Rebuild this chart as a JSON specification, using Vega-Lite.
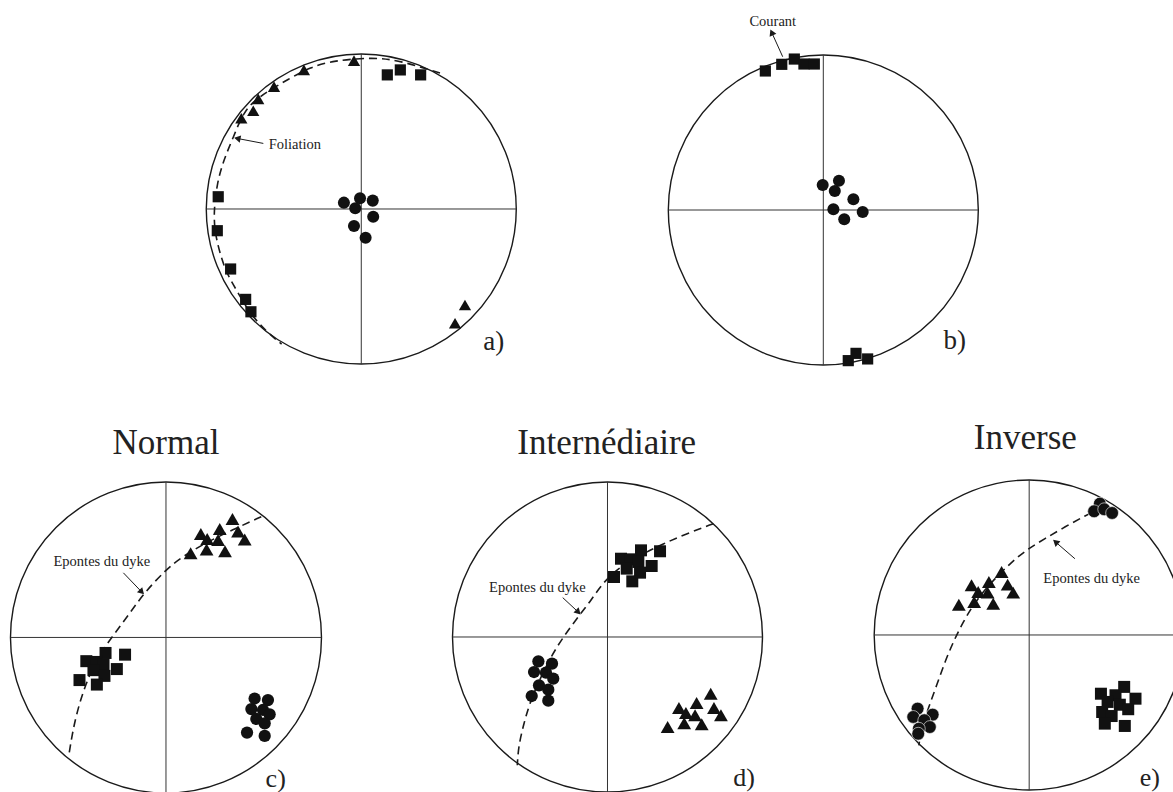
{
  "$schema": "https://vega.github.io/schema/vega-lite/v6.json",
  "padding": 0,
  "spacing": 0,
  "background": "white",
  "config": {
    "view": {"stroke": null},
    "axis": {"disable": true},
    "legend": {"disable": true},
    "concat": {"spacing": 0}
  },
  "vconcat": [
    {
      "spacing": 0,
      "bounds": "flush",
      "resolve": {"scale": {"x": "independent", "y": "independent"}},
      "hconcat": [
        {
          "width": 586, "height": 420,
          "data": {"values": [
            {"x": -0.047, "y": 0.957, "s": "triangle"}, {"x": -0.37, "y": 0.897, "s": "triangle"}, {"x": -0.563, "y": 0.789, "s": "triangle"},
            {"x": -0.665, "y": 0.71, "s": "triangle"}, {"x": -0.697, "y": 0.634, "s": "triangle"}, {"x": -0.774, "y": 0.585, "s": "triangle"},
            {"x": 0.669, "y": -0.619, "s": "triangle"}, {"x": 0.605, "y": -0.737, "s": "triangle"},
            {"x": 0.168, "y": 0.865, "s": "square"}, {"x": 0.252, "y": 0.897, "s": "square"}, {"x": 0.383, "y": 0.865, "s": "square"},
            {"x": -0.923, "y": 0.079, "s": "square"}, {"x": -0.929, "y": -0.14, "s": "square"}, {"x": -0.843, "y": -0.387, "s": "square"},
            {"x": -0.746, "y": -0.583, "s": "square"}, {"x": -0.712, "y": -0.663, "s": "square"},
            {"x": -0.112, "y": 0.041, "s": "circle"}, {"x": -0.008, "y": 0.069, "s": "circle"}, {"x": 0.074, "y": 0.054, "s": "circle"},
            {"x": -0.039, "y": 0.005, "s": "circle"}, {"x": 0.077, "y": -0.05, "s": "circle"}, {"x": -0.047, "y": -0.11, "s": "circle"},
            {"x": 0.028, "y": -0.185, "s": "circle"}
          ]},
          "encoding": {
            "x": {"field": "x", "type": "quantitative", "scale": {"domain": [-2.331, 1.45], "nice": false, "zero": false}},
            "y": {"field": "y", "type": "quantitative", "scale": {"domain": [-1.361, 1.348], "nice": false, "zero": false}}
          },
          "layer": [
            {"data": {"values": [{"x": 0, "y": 0}]}, "mark": {"type": "point", "shape": "circle", "size": 96100, "filled": false, "stroke": "#1a1a1a", "strokeWidth": 1.4, "opacity": 1}},
            {"data": {"values": [{"x": -1, "y": 0, "x2": 1, "y2": 0}, {"x": 0, "y": -1, "x2": 0, "y2": 1}]}, "mark": {"type": "rule", "stroke": "#333", "strokeWidth": 1}, "encoding": {"x2": {"field": "x2"}, "y2": {"field": "y2"}}},
            {"data": {"values": [
              {"i": 0, "x": 0.508, "y": 0.877}, {"i": 1, "x": 0.25, "y": 0.957}, {"i": 2, "x": 0.079, "y": 0.979},
              {"i": 3, "x": -0.181, "y": 0.957}, {"i": 4, "x": -0.331, "y": 0.914}, {"i": 5, "x": -0.46, "y": 0.843},
              {"i": 6, "x": -0.663, "y": 0.725}, {"i": 7, "x": -0.76, "y": 0.628}, {"i": 8, "x": -0.824, "y": 0.466},
              {"i": 9, "x": -0.888, "y": 0.316}, {"i": 10, "x": -0.931, "y": 0.166}, {"i": 11, "x": -0.953, "y": -0.028},
              {"i": 12, "x": -0.943, "y": -0.157}, {"i": 13, "x": -0.912, "y": -0.286}, {"i": 14, "x": -0.869, "y": -0.415},
              {"i": 15, "x": -0.805, "y": -0.523}, {"i": 16, "x": -0.719, "y": -0.674}, {"i": 17, "x": -0.611, "y": -0.792},
              {"i": 18, "x": -0.514, "y": -0.871}
            ]}, "mark": {"type": "line", "stroke": "#1a1a1a", "strokeWidth": 1.6, "strokeDash": [8, 5], "interpolate": "basis"}, "encoding": {"order": {"field": "i", "type": "quantitative"}}},
            {"transform": [{"filter": "datum.s === 'circle'"}], "mark": {"type": "point", "shape": "circle", "size": 145, "filled": true, "fill": "#111", "opacity": 1}},
            {"transform": [{"filter": "datum.s === 'square'"}], "mark": {"type": "point", "shape": "square", "size": 125, "filled": true, "fill": "#111", "opacity": 1}},
            {"transform": [{"filter": "datum.s === 'triangle'"}], "mark": {"type": "point", "shape": "triangle-up", "size": 150, "filled": true, "fill": "#111", "opacity": 1}},
            {"data": {"values": [{"x": -0.632, "y": 0.423, "x2": -0.8, "y2": 0.455}]}, "mark": {"type": "rule", "stroke": "#1a1a1a", "strokeWidth": 1}, "encoding": {"x2": {"field": "x2"}, "y2": {"field": "y2"}}},
            {"data": {"values": [{"x": -0.8, "y": 0.455}]}, "mark": {"type": "point", "shape": "triangle-up", "size": 55, "angle": 281, "filled": true, "fill": "#1a1a1a", "opacity": 1}},
            {"data": {"values": [{"x": -0.428, "y": 0.413, "t": "Foliation"}]}, "mark": {"type": "text", "font": "Liberation Serif", "fontSize": 14.5, "align": "center", "baseline": "middle", "color": "#222"}, "encoding": {"text": {"field": "t"}}},
            {"data": {"values": [{"x": 0.855, "y": -0.856, "t": "a)"}]}, "mark": {"type": "text", "font": "Liberation Serif", "fontSize": 27, "align": "center", "baseline": "middle", "color": "#222"}, "encoding": {"text": {"field": "t"}}}
          ]
        },
        {
          "width": 587, "height": 420,
          "data": {"values": [
            {"x": -0.374, "y": 0.897, "s": "square"}, {"x": -0.268, "y": 0.94, "s": "square"}, {"x": -0.187, "y": 0.974, "s": "square"},
            {"x": -0.125, "y": 0.942, "s": "square"}, {"x": -0.058, "y": 0.942, "s": "square"},
            {"x": 0.161, "y": -0.972, "s": "square"}, {"x": 0.211, "y": -0.925, "s": "square"}, {"x": 0.286, "y": -0.961, "s": "square"},
            {"x": -0.004, "y": 0.161, "s": "circle"}, {"x": 0.101, "y": 0.189, "s": "circle"}, {"x": 0.074, "y": 0.123, "s": "circle"},
            {"x": 0.194, "y": 0.069, "s": "circle"}, {"x": 0.065, "y": 0.005, "s": "circle"}, {"x": 0.254, "y": -0.013, "s": "circle"},
            {"x": 0.135, "y": -0.06, "s": "circle"}
          ]},
          "encoding": {
            "x": {"field": "x", "type": "quantitative", "scale": {"domain": [-1.531, 2.256], "nice": false, "zero": false}},
            "y": {"field": "y", "type": "quantitative", "scale": {"domain": [-1.355, 1.355], "nice": false, "zero": false}}
          },
          "layer": [
            {"data": {"values": [{"x": 0, "y": 0}]}, "mark": {"type": "point", "shape": "circle", "size": 96100, "filled": false, "stroke": "#1a1a1a", "strokeWidth": 1.4, "opacity": 1}},
            {"data": {"values": [{"x": -1, "y": 0, "x2": 1, "y2": 0}, {"x": 0, "y": -1, "x2": 0, "y2": 1}]}, "mark": {"type": "rule", "stroke": "#333", "strokeWidth": 1}, "encoding": {"x2": {"field": "x2"}, "y2": {"field": "y2"}}},
            {"transform": [{"filter": "datum.s === 'circle'"}], "mark": {"type": "point", "shape": "circle", "size": 145, "filled": true, "fill": "#111", "opacity": 1}},
            {"transform": [{"filter": "datum.s === 'square'"}], "mark": {"type": "point", "shape": "square", "size": 125, "filled": true, "fill": "#111", "opacity": 1}},
            {"data": {"values": [{"x": -0.262, "y": 0.989, "x2": -0.333, "y2": 1.146}]}, "mark": {"type": "rule", "stroke": "#1a1a1a", "strokeWidth": 1}, "encoding": {"x2": {"field": "x2"}, "y2": {"field": "y2"}}},
            {"data": {"values": [{"x": -0.333, "y": 1.146}]}, "mark": {"type": "point", "shape": "triangle-up", "size": 55, "angle": 336, "filled": true, "fill": "#1a1a1a", "opacity": 1}},
            {"data": {"values": [{"x": -0.326, "y": 1.215, "t": "Courant"}]}, "mark": {"type": "text", "font": "Liberation Serif", "fontSize": 14.5, "align": "center", "baseline": "middle", "color": "#222"}, "encoding": {"text": {"field": "t"}}},
            {"data": {"values": [{"x": 0.848, "y": -0.844, "t": "b)"}]}, "mark": {"type": "text", "font": "Liberation Serif", "fontSize": 27, "align": "center", "baseline": "middle", "color": "#222"}, "encoding": {"text": {"field": "t"}}}
          ]
        }
      ]
    },
    {
      "spacing": 0,
      "bounds": "flush",
      "resolve": {"scale": {"x": "independent", "y": "independent"}},
      "hconcat": [
        {
          "width": 391, "height": 372,
          "data": {"values": [
            {"x": 0.429, "y": 0.764, "s": "triangle"}, {"x": 0.225, "y": 0.668, "s": "triangle"}, {"x": 0.347, "y": 0.7, "s": "triangle"},
            {"x": 0.465, "y": 0.683, "s": "triangle"}, {"x": 0.266, "y": 0.635, "s": "triangle"}, {"x": 0.336, "y": 0.629, "s": "triangle"},
            {"x": 0.508, "y": 0.632, "s": "triangle"}, {"x": 0.159, "y": 0.543, "s": "triangle"}, {"x": 0.262, "y": 0.567, "s": "triangle"},
            {"x": 0.381, "y": 0.556, "s": "triangle"},
            {"x": -0.264, "y": -0.111, "s": "square"}, {"x": -0.39, "y": -0.1, "s": "square"}, {"x": -0.514, "y": -0.153, "s": "square"},
            {"x": -0.446, "y": -0.158, "s": "square"}, {"x": -0.403, "y": -0.172, "s": "square"}, {"x": -0.317, "y": -0.204, "s": "square"},
            {"x": -0.468, "y": -0.211, "s": "square"}, {"x": -0.397, "y": -0.248, "s": "square"}, {"x": -0.558, "y": -0.275, "s": "square"},
            {"x": -0.446, "y": -0.304, "s": "square"},
            {"x": 0.572, "y": -0.394, "s": "circle"}, {"x": 0.658, "y": -0.404, "s": "circle"}, {"x": 0.551, "y": -0.462, "s": "circle"},
            {"x": 0.626, "y": -0.468, "s": "circle"}, {"x": 0.669, "y": -0.496, "s": "circle"}, {"x": 0.583, "y": -0.526, "s": "circle"},
            {"x": 0.637, "y": -0.554, "s": "circle"}, {"x": 0.523, "y": -0.614, "s": "circle"}, {"x": 0.637, "y": -0.635, "s": "circle"}
          ]},
          "encoding": {
            "x": {"field": "x", "type": "quantitative", "scale": {"domain": [-1.071, 1.452], "nice": false, "zero": false}},
            "y": {"field": "y", "type": "quantitative", "scale": {"domain": [-1.01, 1.39], "nice": false, "zero": false}}
          },
          "layer": [
            {"data": {"values": [{"x": 0, "y": 0}]}, "mark": {"type": "point", "shape": "circle", "size": 96721, "filled": false, "stroke": "#1a1a1a", "strokeWidth": 1.4, "opacity": 1}},
            {"data": {"values": [{"x": -1.003, "y": 0, "x2": 1.003, "y2": 0}, {"x": 0, "y": -1.003, "x2": 0, "y2": 1.003}]}, "mark": {"type": "rule", "stroke": "#333", "strokeWidth": 1}, "encoding": {"x2": {"field": "x2"}, "y2": {"field": "y2"}}},
            {"data": {"values": [
              {"i": 0, "x": 0.615, "y": 0.779}, {"i": 1, "x": 0.433, "y": 0.696}, {"i": 2, "x": 0.262, "y": 0.614},
              {"i": 3, "x": 0.101, "y": 0.518}, {"i": 4, "x": 0.004, "y": 0.442}, {"i": 5, "x": -0.146, "y": 0.282},
              {"i": 6, "x": -0.242, "y": 0.143}, {"i": 7, "x": -0.349, "y": 0.003}, {"i": 8, "x": -0.446, "y": -0.136},
              {"i": 9, "x": -0.521, "y": -0.307}, {"i": 10, "x": -0.574, "y": -0.479}, {"i": 11, "x": -0.606, "y": -0.629},
              {"i": 12, "x": -0.628, "y": -0.768}
            ]}, "mark": {"type": "line", "stroke": "#1a1a1a", "strokeWidth": 1.6, "strokeDash": [8, 5], "interpolate": "basis"}, "encoding": {"order": {"field": "i", "type": "quantitative"}}},
            {"transform": [{"filter": "datum.s === 'circle'"}], "mark": {"type": "point", "shape": "circle", "size": 150, "filled": true, "fill": "#111", "opacity": 1}},
            {"transform": [{"filter": "datum.s === 'square'"}], "mark": {"type": "point", "shape": "square", "size": 144, "filled": true, "fill": "#111", "opacity": 1}},
            {"transform": [{"filter": "datum.s === 'triangle'"}], "mark": {"type": "point", "shape": "triangle-up", "size": 190, "filled": true, "fill": "#111", "opacity": 1}},
            {"data": {"values": [{"x": -0.275, "y": 0.417, "x2": -0.156, "y2": 0.293}]}, "mark": {"type": "rule", "stroke": "#1a1a1a", "strokeWidth": 1}, "encoding": {"x2": {"field": "x2"}, "y2": {"field": "y2"}}},
            {"data": {"values": [{"x": -0.156, "y": 0.293}]}, "mark": {"type": "point", "shape": "triangle-up", "size": 55, "angle": 136, "filled": true, "fill": "#1a1a1a", "opacity": 1}},
            {"data": {"values": [{"x": -0.414, "y": 0.49, "t": "Epontes du dyke"}]}, "mark": {"type": "text", "font": "Liberation Serif", "fontSize": 14.5, "align": "center", "baseline": "middle", "color": "#222"}, "encoding": {"text": {"field": "t"}}},
            {"data": {"values": [{"x": 0, "y": 1.186, "t": "Normal"}]}, "mark": {"type": "text", "font": "Liberation Serif", "fontSize": 35, "align": "center", "baseline": "alphabetic", "color": "#222"}, "encoding": {"text": {"field": "t"}}},
            {"data": {"values": [{"x": 0.708, "y": -0.915, "t": "c)"}]}, "mark": {"type": "text", "font": "Liberation Serif", "fontSize": 26, "align": "center", "baseline": "middle", "color": "#222"}, "encoding": {"text": {"field": "t"}}}
          ]
        },
        {
          "width": 391, "height": 372,
          "data": {"values": [
            {"x": 0.216, "y": 0.559, "s": "square"}, {"x": 0.339, "y": 0.553, "s": "square"}, {"x": 0.087, "y": 0.505, "s": "square"},
            {"x": 0.15, "y": 0.501, "s": "square"}, {"x": 0.199, "y": 0.484, "s": "square"}, {"x": 0.285, "y": 0.458, "s": "square"},
            {"x": 0.124, "y": 0.441, "s": "square"}, {"x": 0.21, "y": 0.415, "s": "square"}, {"x": 0.042, "y": 0.387, "s": "square"},
            {"x": 0.16, "y": 0.359, "s": "square"},
            {"x": -0.446, "y": -0.157, "s": "circle"}, {"x": -0.358, "y": -0.172, "s": "circle"}, {"x": -0.474, "y": -0.226, "s": "circle"},
            {"x": -0.397, "y": -0.23, "s": "circle"}, {"x": -0.35, "y": -0.269, "s": "circle"}, {"x": -0.442, "y": -0.312, "s": "circle"},
            {"x": -0.382, "y": -0.34, "s": "circle"}, {"x": -0.489, "y": -0.381, "s": "circle"}, {"x": -0.382, "y": -0.411, "s": "circle"},
            {"x": 0.666, "y": -0.366, "s": "triangle"}, {"x": 0.575, "y": -0.426, "s": "triangle"}, {"x": 0.461, "y": -0.458, "s": "triangle"},
            {"x": 0.687, "y": -0.458, "s": "triangle"}, {"x": 0.506, "y": -0.49, "s": "triangle"}, {"x": 0.565, "y": -0.505, "s": "triangle"},
            {"x": 0.732, "y": -0.505, "s": "triangle"}, {"x": 0.388, "y": -0.581, "s": "triangle"}, {"x": 0.495, "y": -0.556, "s": "triangle"},
            {"x": 0.608, "y": -0.563, "s": "triangle"}
          ]},
          "encoding": {
            "x": {"field": "x", "type": "quantitative", "scale": {"domain": [-1.397, 1.126], "nice": false, "zero": false}},
            "y": {"field": "y", "type": "quantitative", "scale": {"domain": [-1.013, 1.387], "nice": false, "zero": false}}
          },
          "layer": [
            {"data": {"values": [{"x": 0, "y": 0}]}, "mark": {"type": "point", "shape": "circle", "size": 96100, "filled": false, "stroke": "#1a1a1a", "strokeWidth": 1.4, "opacity": 1}},
            {"data": {"values": [{"x": -1, "y": 0, "x2": 1, "y2": 0}, {"x": 0, "y": -1, "x2": 0, "y2": 1}]}, "mark": {"type": "rule", "stroke": "#333", "strokeWidth": 1}, "encoding": {"x2": {"field": "x2"}, "y2": {"field": "y2"}}},
            {"data": {"values": [
              {"i": 0, "x": 0.683, "y": 0.731}, {"i": 1, "x": 0.511, "y": 0.666}, {"i": 2, "x": 0.36, "y": 0.602},
              {"i": 3, "x": 0.21, "y": 0.527}, {"i": 4, "x": 0.081, "y": 0.452}, {"i": 5, "x": -0.027, "y": 0.355},
              {"i": 6, "x": -0.113, "y": 0.226}, {"i": 7, "x": -0.199, "y": 0.118}, {"i": 8, "x": -0.285, "y": 0},
              {"i": 9, "x": -0.36, "y": -0.118}, {"i": 10, "x": -0.435, "y": -0.269}, {"i": 11, "x": -0.5, "y": -0.419},
              {"i": 12, "x": -0.543, "y": -0.57}, {"i": 13, "x": -0.575, "y": -0.71}, {"i": 14, "x": -0.582, "y": -0.828}
            ]}, "mark": {"type": "line", "stroke": "#1a1a1a", "strokeWidth": 1.6, "strokeDash": [8, 5], "interpolate": "basis"}, "encoding": {"order": {"field": "i", "type": "quantitative"}}},
            {"transform": [{"filter": "datum.s === 'circle'"}], "mark": {"type": "point", "shape": "circle", "size": 150, "filled": true, "fill": "#111", "opacity": 1}},
            {"transform": [{"filter": "datum.s === 'square'"}], "mark": {"type": "point", "shape": "square", "size": 144, "filled": true, "fill": "#111", "opacity": 1}},
            {"transform": [{"filter": "datum.s === 'triangle'"}], "mark": {"type": "point", "shape": "triangle-up", "size": 190, "filled": true, "fill": "#111", "opacity": 1}},
            {"data": {"values": [{"x": -0.289, "y": 0.254, "x2": -0.188, "y2": 0.16}]}, "mark": {"type": "rule", "stroke": "#1a1a1a", "strokeWidth": 1}, "encoding": {"x2": {"field": "x2"}, "y2": {"field": "y2"}}},
            {"data": {"values": [{"x": -0.188, "y": 0.16}]}, "mark": {"type": "point", "shape": "triangle-up", "size": 55, "angle": 134, "filled": true, "fill": "#1a1a1a", "opacity": 1}},
            {"data": {"values": [{"x": -0.452, "y": 0.318, "t": "Epontes du dyke"}]}, "mark": {"type": "text", "font": "Liberation Serif", "fontSize": 14.5, "align": "center", "baseline": "middle", "color": "#222"}, "encoding": {"text": {"field": "t"}}},
            {"data": {"values": [{"x": -0.005, "y": 1.179, "t": "Internédiaire"}]}, "mark": {"type": "text", "font": "Liberation Serif", "fontSize": 35, "align": "center", "baseline": "alphabetic", "color": "#222"}, "encoding": {"text": {"field": "t"}}},
            {"data": {"values": [{"x": 0.882, "y": -0.91, "t": "d)"}]}, "mark": {"type": "text", "font": "Liberation Serif", "fontSize": 26, "align": "center", "baseline": "middle", "color": "#222"}, "encoding": {"text": {"field": "t"}}}
          ]
        },
        {
          "width": 391, "height": 372,
          "data": {"values": [
            {"x": 0.456, "y": 0.847, "s": "circle"}, {"x": 0.419, "y": 0.798, "s": "circle"}, {"x": 0.484, "y": 0.811, "s": "circle"},
            {"x": 0.535, "y": 0.787, "s": "circle"},
            {"x": -0.72, "y": -0.475, "s": "circle"}, {"x": -0.623, "y": -0.514, "s": "circle"}, {"x": -0.748, "y": -0.529, "s": "circle"},
            {"x": -0.677, "y": -0.55, "s": "circle"}, {"x": -0.641, "y": -0.594, "s": "circle"}, {"x": -0.712, "y": -0.605, "s": "circle"},
            {"x": -0.716, "y": -0.637, "s": "circle"},
            {"x": -0.178, "y": 0.406, "s": "triangle"}, {"x": -0.372, "y": 0.321, "s": "triangle"}, {"x": -0.26, "y": 0.342, "s": "triangle"},
            {"x": -0.139, "y": 0.325, "s": "triangle"}, {"x": -0.329, "y": 0.277, "s": "triangle"}, {"x": -0.268, "y": 0.273, "s": "triangle"},
            {"x": -0.103, "y": 0.273, "s": "triangle"}, {"x": -0.454, "y": 0.195, "s": "triangle"}, {"x": -0.355, "y": 0.213, "s": "triangle"},
            {"x": -0.232, "y": 0.202, "s": "triangle"},
            {"x": 0.613, "y": -0.335, "s": "square"}, {"x": 0.463, "y": -0.379, "s": "square"}, {"x": 0.557, "y": -0.389, "s": "square"},
            {"x": 0.686, "y": -0.411, "s": "square"}, {"x": 0.506, "y": -0.432, "s": "square"}, {"x": 0.585, "y": -0.45, "s": "square"},
            {"x": 0.639, "y": -0.479, "s": "square"}, {"x": 0.471, "y": -0.497, "s": "square"}, {"x": 0.532, "y": -0.523, "s": "square"},
            {"x": 0.488, "y": -0.572, "s": "square"}, {"x": 0.617, "y": -0.587, "s": "square"}
          ]},
          "encoding": {
            "x": {"field": "x", "type": "quantitative", "scale": {"domain": [-1.595, 0.928], "nice": false, "zero": false}},
            "y": {"field": "y", "type": "quantitative", "scale": {"domain": [-1.026, 1.374], "nice": false, "zero": false}}
          },
          "layer": [
            {"data": {"values": [{"x": 0, "y": 0}]}, "mark": {"type": "point", "shape": "circle", "size": 96100, "filled": false, "stroke": "#1a1a1a", "strokeWidth": 1.4, "opacity": 1}},
            {"data": {"values": [{"x": -1, "y": 0, "x2": 1, "y2": 0}, {"x": 0, "y": -1, "x2": 0, "y2": 1}]}, "mark": {"type": "rule", "stroke": "#333", "strokeWidth": 1}, "encoding": {"x2": {"field": "x2"}, "y2": {"field": "y2"}}},
            {"data": {"values": [
              {"i": 0, "x": 0.477, "y": 0.826}, {"i": 1, "x": 0.359, "y": 0.768}, {"i": 2, "x": 0.23, "y": 0.697},
              {"i": 3, "x": 0.101, "y": 0.621}, {"i": 4, "x": -0.006, "y": 0.557}, {"i": 5, "x": -0.114, "y": 0.471},
              {"i": 6, "x": -0.243, "y": 0.342}, {"i": 7, "x": -0.35, "y": 0.213}, {"i": 8, "x": -0.426, "y": 0.084},
              {"i": 9, "x": -0.49, "y": -0.045}, {"i": 10, "x": -0.544, "y": -0.174}, {"i": 11, "x": -0.597, "y": -0.325},
              {"i": 12, "x": -0.652, "y": -0.475}, {"i": 13, "x": -0.694, "y": -0.605}, {"i": 14, "x": -0.712, "y": -0.712}
            ]}, "mark": {"type": "line", "stroke": "#1a1a1a", "strokeWidth": 1.6, "strokeDash": [8, 5], "interpolate": "basis"}, "encoding": {"order": {"field": "i", "type": "quantitative"}}},
            {"transform": [{"filter": "datum.s === 'circle'"}], "mark": {"type": "point", "shape": "circle", "size": 165, "filled": true, "fill": "#111", "stroke": "white", "strokeWidth": 0.6, "opacity": 1}},
            {"transform": [{"filter": "datum.s === 'square'"}], "mark": {"type": "point", "shape": "square", "size": 144, "filled": true, "fill": "#111", "opacity": 1}},
            {"transform": [{"filter": "datum.s === 'triangle'"}], "mark": {"type": "point", "shape": "triangle-up", "size": 190, "filled": true, "fill": "#111", "opacity": 1}},
            {"data": {"values": [{"x": 0.295, "y": 0.492, "x2": 0.17, "y2": 0.6}]}, "mark": {"type": "rule", "stroke": "#1a1a1a", "strokeWidth": 1}, "encoding": {"x2": {"field": "x2"}, "y2": {"field": "y2"}}},
            {"data": {"values": [{"x": 0.17, "y": 0.6}]}, "mark": {"type": "point", "shape": "triangle-up", "size": 55, "angle": 311, "filled": true, "fill": "#1a1a1a", "opacity": 1}},
            {"data": {"values": [{"x": 0.403, "y": 0.36, "t": "Epontes du dyke"}]}, "mark": {"type": "text", "font": "Liberation Serif", "fontSize": 14.5, "align": "center", "baseline": "middle", "color": "#222"}, "encoding": {"text": {"field": "t"}}},
            {"data": {"values": [{"x": -0.025, "y": 1.202, "t": "Inverse"}]}, "mark": {"type": "text", "font": "Liberation Serif", "fontSize": 35, "align": "center", "baseline": "alphabetic", "color": "#222"}, "encoding": {"text": {"field": "t"}}},
            {"data": {"values": [{"x": 0.779, "y": -0.92, "t": "e)"}]}, "mark": {"type": "text", "font": "Liberation Serif", "fontSize": 26, "align": "center", "baseline": "middle", "color": "#222"}, "encoding": {"text": {"field": "t"}}}
          ]
        }
      ]
    }
  ]
}
